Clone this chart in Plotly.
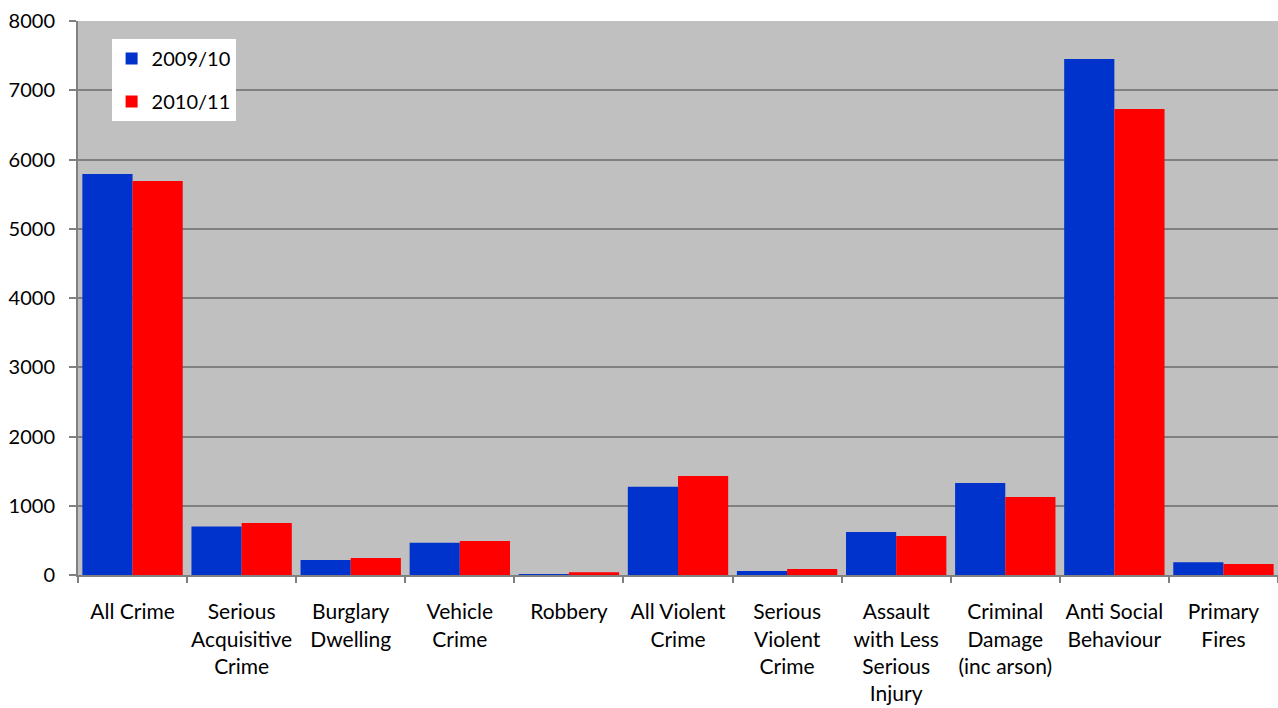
import plotly.graph_objects as go

categories = ["All Crime", "Serious<br>Acquisitive<br>Crime", "Burglary<br>Dwelling", "Vehicle<br>Crime",
              "Robbery", "All Violent<br>Crime", "Serious<br>Violent<br>Crime", "Assault<br>with Less<br>Serious<br>Injury",
              "Criminal<br>Damage<br>(inc arson)", "Anti Social<br>Behaviour", "Primary<br>Fires"]
v_2009 = [5790, 700, 217, 466, 5, 1275, 58, 621, 1329, 7451, 183]
v_2010 = [5690, 750, 245, 491, 39, 1430, 87, 563, 1126, 6729, 159]
series_names = ["2009/10", "2010/11"]

font = "Lato, Carlito, sans-serif"

fig = go.Figure()
fig.add_trace(go.Bar(x=categories, y=v_2009, name=series_names[0], legendgroup="a",
                     marker=dict(color="#0033cc", line=dict(width=0))))
fig.add_trace(go.Bar(x=categories, y=v_2010, name=series_names[1], legendgroup="b",
                     marker=dict(color="#ff0000", line=dict(width=0))))

fig.update_layout(
    width=1278, height=708,
    margin=dict(l=78, r=0, t=21, b=133),
    paper_bgcolor="white", plot_bgcolor="#c0c0c0",
    barmode="group", bargap=0.08, bargroupgap=0,
    font=dict(family=font, size=21, color="black"),
    legend=dict(x=0.028, y=0.9675, xanchor="left", yanchor="top", bgcolor="white",
                font=dict(size=20), itemsizing="constant", tracegroupgap=14),
    showlegend=True,
)
fig.update_xaxes(showline=True, linecolor="#808080", linewidth=2, ticks="outside", tickson="boundaries",
                 ticklen=6, tickcolor="#808080", tickwidth=2, tickangle=0, showgrid=False,
                 automargin=False, ticklabelstandoff=17)
fig.update_yaxes(range=[0, 8000], dtick=1000, showline=True, linecolor="#808080", linewidth=2,
                 ticks="outside", ticklen=7, tickcolor="#808080", tickwidth=2,
                 gridcolor="#808080", gridwidth=1.5, zeroline=False, tickformat="d",
                 automargin=False, ticklabelstandoff=10, tickfont=dict(size=20))
fig.write_html("out.html", config={"displayModeBar": False},
               post_script="document.body.style.margin='0';document.body.style.overflow='hidden';")
